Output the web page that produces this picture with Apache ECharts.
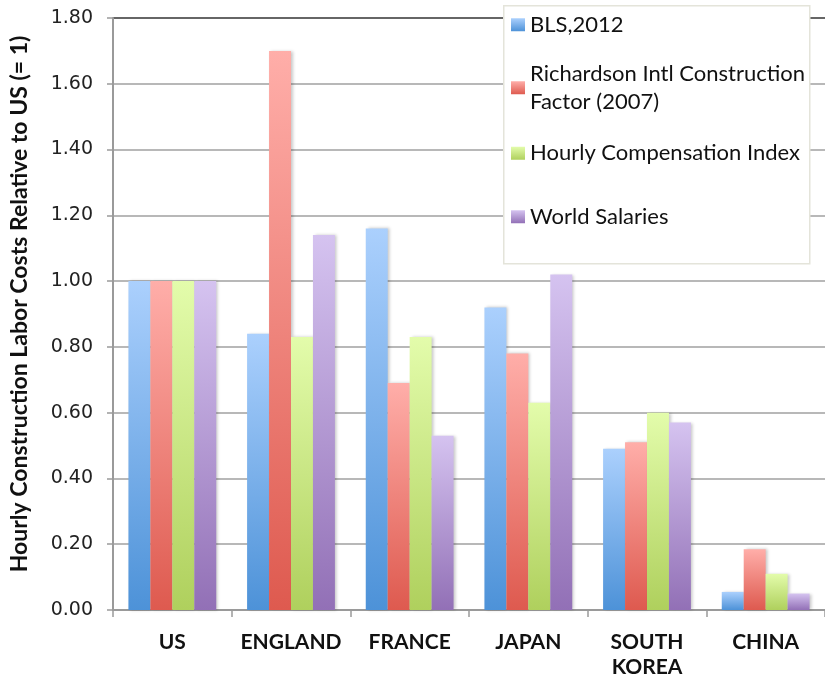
<!DOCTYPE html>
<html>
<head>
<meta charset="utf-8">
<script src="https://cdn.jsdelivr.net/npm/echarts@6/dist/echarts.min.js"></script>
<style>
html,body{margin:0;padding:0;background:#fff;}
#chart{width:825px;height:680px;}
</style>
</head>
<body>
<div id="chart"></div>
<script>
const categories = ['US', 'ENGLAND', 'FRANCE', 'JAPAN', 'SOUTH\nKOREA', 'CHINA'];
const seriesNames = ['BLS,2012', 'Richardson Intl Construction\nFactor (2007)', 'Hourly Compensation Index', 'World Salaries'];
const blsValues = [1.00, 0.84, 1.16, 0.92, 0.49, 0.055];
const richardsonValues = [1.00, 1.70, 0.69, 0.78, 0.51, 0.185];
const hourlyCompValues = [1.00, 0.83, 0.83, 0.63, 0.60, 0.11];
const worldSalariesValues = [1.00, 1.14, 0.53, 1.02, 0.57, 0.05];
const yMin = 0, yMax = 1.8, yStep = 0.2;
const yTitle = 'Hourly Construction Labor Costs Relative to US (= 1)';

const gradients = [
  ['#abd0fd', '#4d92d8'],
  ['#ffaea9', '#de5a4f'],
  ['#e3fcab', '#afd05d'],
  ['#d5c3f0', '#9270b6']
];
const valueSets = [blsValues, richardsonValues, hourlyCompValues, worldSalariesValues];

function grad(c) {
  return new echarts.graphic.LinearGradient(0, 0, 0, 1, [
    { offset: 0, color: c[0] }, { offset: 1, color: c[1] }
  ]);
}

const series = seriesNames.map((name, i) => ({
  name: name,
  type: 'bar',
  data: valueSets[i],
  barGap: '0%',
  barCategoryGap: '26%',
  itemStyle: {
    color: grad(gradients[i]),
    shadowColor: 'rgba(0,0,0,0.22)',
    shadowBlur: 3,
    shadowOffsetX: 2
  }
}));

const legendTops = [11, 46.5, 139.5, 203];
const legendText = {
  fontFamily: 'Lato', fontSize: 22, color: '#111', lineHeight: 27.5
};
const legends = seriesNames.map((name, i) => ({
  data: [name],
  left: 511,
  top: legendTops[i],
  padding: 0,
  itemWidth: 14,
  itemHeight: 13,
  icon: 'rect',
  z: 120,
  selectedMode: false,
  textStyle: Object.assign({}, legendText, i === 1 ? { padding: [0, 0, 27.5, 0] } : {})
}));

const splitColors = [];
for (let v = yMin; v <= yMax + 1e-9; v += yStep) {
  splitColors.push(v > yMax - 1e-6 ? '#333' : '#a0a0a0');
}

const chart = echarts.init(document.getElementById('chart'), null, { renderer: 'canvas' });
chart.setOption({
  backgroundColor: '#fff',
  animation: false,
  grid: { left: 113, top: 18, width: 720, height: 596, containLabel: false },
  legend: legends,
  xAxis: {
    type: 'category',
    data: categories,
    axisLine: { lineStyle: { color: '#9a9a9a', width: 2 } },
    axisTick: { show: true, length: 7, lineStyle: { color: '#9a9a9a', width: 1.5 } },
    axisLabel: {
      fontFamily: 'Lato', fontWeight: 'bold', fontSize: 21, color: '#111',
      margin: 20, lineHeight: 25, interval: 0
    }
  },
  yAxis: {
    type: 'value',
    min: yMin, max: yMax, interval: yStep,
    name: yTitle,
    nameLocation: 'middle',
    nameRotate: 90,
    nameGap: 82,
    nameTextStyle: {
      fontFamily: 'Lato', fontWeight: 'bold', fontSize: 23, color: '#111',
      padding: [0, 0, 0, 20]
    },
    axisLine: { show: true, lineStyle: { color: '#9a9a9a', width: 2 } },
    axisTick: { show: true, length: 6, lineStyle: { color: '#9a9a9a', width: 1.5 } },
    axisLabel: {
      fontFamily: 'DejaVu Sans', fontSize: 19, color: '#222', margin: 20,
      formatter: v => v.toFixed(2)
    },
    splitLine: { show: true, lineStyle: { color: splitColors, width: 1.5 } }
  },
  graphic: [{
    type: 'rect',
    left: 503, top: 5,
    z: 110,
    shape: { width: 306, height: 258 },
    style: { fill: '#fff', stroke: '#e4e4da', lineWidth: 1.5 }
  }],
  series: series
});
</script>
</body>
</html>
